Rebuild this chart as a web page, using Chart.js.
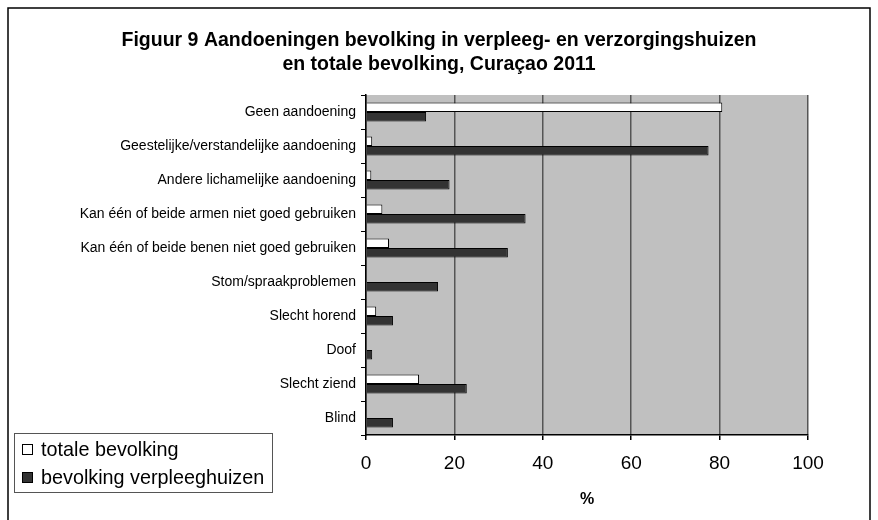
<!DOCTYPE html>
<html>
<head>
<meta charset="utf-8">
<script src="https://cdn.jsdelivr.net/npm/chart.js@4"></script>
<style>
  html, body { margin: 0; padding: 0; background: #fff; }
  #wrap { width: 878px; height: 520px; }
</style>
</head>
<body>
<div id="wrap"><canvas id="chart" width="878" height="520"></canvas></div>
<script>
const titleLines = ['Figuur 9 Aandoeningen bevolking in verpleeg- en verzorgingshuizen', 'en totale bevolking, Curaçao 2011'];
const categories = [
  'Geen aandoening',
  'Geestelijke/verstandelijke aandoening',
  'Andere lichamelijke aandoening',
  'Kan één of beide armen niet goed gebruiken',
  'Kan één of beide benen niet goed gebruiken',
  'Stom/spraakproblemen',
  'Slecht horend',
  'Doof',
  'Slecht ziend',
  'Blind'
];
const totaleBevolking = [80.6, 1.4, 1.2, 3.7, 5.2, 0, 2.3, 0, 12.0, 0];
const verpleeghuizen = [13.6, 77.5, 18.9, 36.1, 32.1, 16.3, 6.1, 1.4, 22.8, 6.1];
const xTicks = [0, 20, 40, 60, 80, 100];

const FONT = 'Arial, "Liberation Sans", sans-serif';

// grey plot background, outer frame and the two-line title centred on the page
const decor = {
  id: 'decor',
  beforeDraw(chart) {
    const {ctx, chartArea: a} = chart;
    ctx.save();
    ctx.fillStyle = '#c0c0c0';
    ctx.fillRect(a.left, a.top, a.right - a.left, a.bottom - a.top);
    ctx.strokeStyle = '#000';
    ctx.lineWidth = 1.5;
    ctx.beginPath();
    ctx.moveTo(8, 530);
    ctx.lineTo(8, 8);
    ctx.lineTo(870, 8);
    ctx.lineTo(870, 530);
    ctx.stroke();
    ctx.fillStyle = '#000';
    ctx.font = 'bold 19.5px ' + FONT;
    ctx.textAlign = 'center';
    ctx.textBaseline = 'middle';
    titleLines.forEach((t, i) => ctx.fillText(t, 439, 41 + i * 24));
    ctx.restore();
  }
};

// legend box in the lower left corner
const boxLegend = {
  id: 'boxLegend',
  afterDraw(chart) {
    const ctx = chart.ctx;
    ctx.save();
    ctx.strokeStyle = '#555';
    ctx.lineWidth = 1;
    ctx.strokeRect(14.5, 433.5, 258, 59);
    ctx.font = '19.8px ' + FONT;
    ctx.textBaseline = 'middle';
    chart.data.datasets.forEach((ds, i) => {
      const y = 450 + i * 28;
      ctx.fillStyle = ds.backgroundColor;
      ctx.fillRect(22.5, y - 5.5, 10, 10);
      ctx.strokeStyle = '#000';
      ctx.strokeRect(22.5, y - 5.5, 10, 10);
      ctx.fillStyle = '#000';
      ctx.fillText(ds.label, 41, y + 1);
    });
    ctx.restore();
  }
};

new Chart(document.getElementById('chart'), {
  type: 'bar',
  data: {
    labels: categories,
    datasets: [
      {label: 'totale bevolking', data: totaleBevolking, backgroundColor: '#ffffff', borderColor: '#000', borderWidth: 1},
      {label: 'bevolking verpleeghuizen', data: verpleeghuizen, backgroundColor: '#333333', borderColor: '#000', borderWidth: 1}
    ]
  },
  options: {
    indexAxis: 'y',
    responsive: false,
    animation: false,
    layout: {padding: {left: 0, right: 70, top: 95, bottom: 11}},
    datasets: {bar: {categoryPercentage: 0.56, barPercentage: 1}},
    plugins: {
      legend: {display: false},
      tooltip: {enabled: false},
      title: {display: false}
    },
    scales: {
      x: {
        min: 0, max: 100,
        afterBuildTicks: s => { s.ticks = xTicks.map(v => ({value: v})); },
        ticks: {color: '#000', font: {family: FONT, size: 19}, padding: 12, maxRotation: 0},
        grid: {color: '#555', lineWidth: 1.5, tickLength: 5, tickColor: '#000'},
        border: {color: '#000', width: 1.5},
        title: {display: true, text: '%', color: '#000', font: {family: FONT, size: 16, weight: 'bold'}, padding: {top: 3, bottom: 0}}
      },
      y: {
        afterFit: s => { s.width = 366; },
        ticks: {color: '#000', font: {family: FONT, size: 14}, padding: 5, autoSkip: false},
        grid: {drawOnChartArea: false, tickLength: 5, tickColor: '#000', offset: true},
        border: {color: '#000', width: 1.5}
      }
    }
  },
  plugins: [decor, boxLegend]
});
</script>
</body>
</html>
